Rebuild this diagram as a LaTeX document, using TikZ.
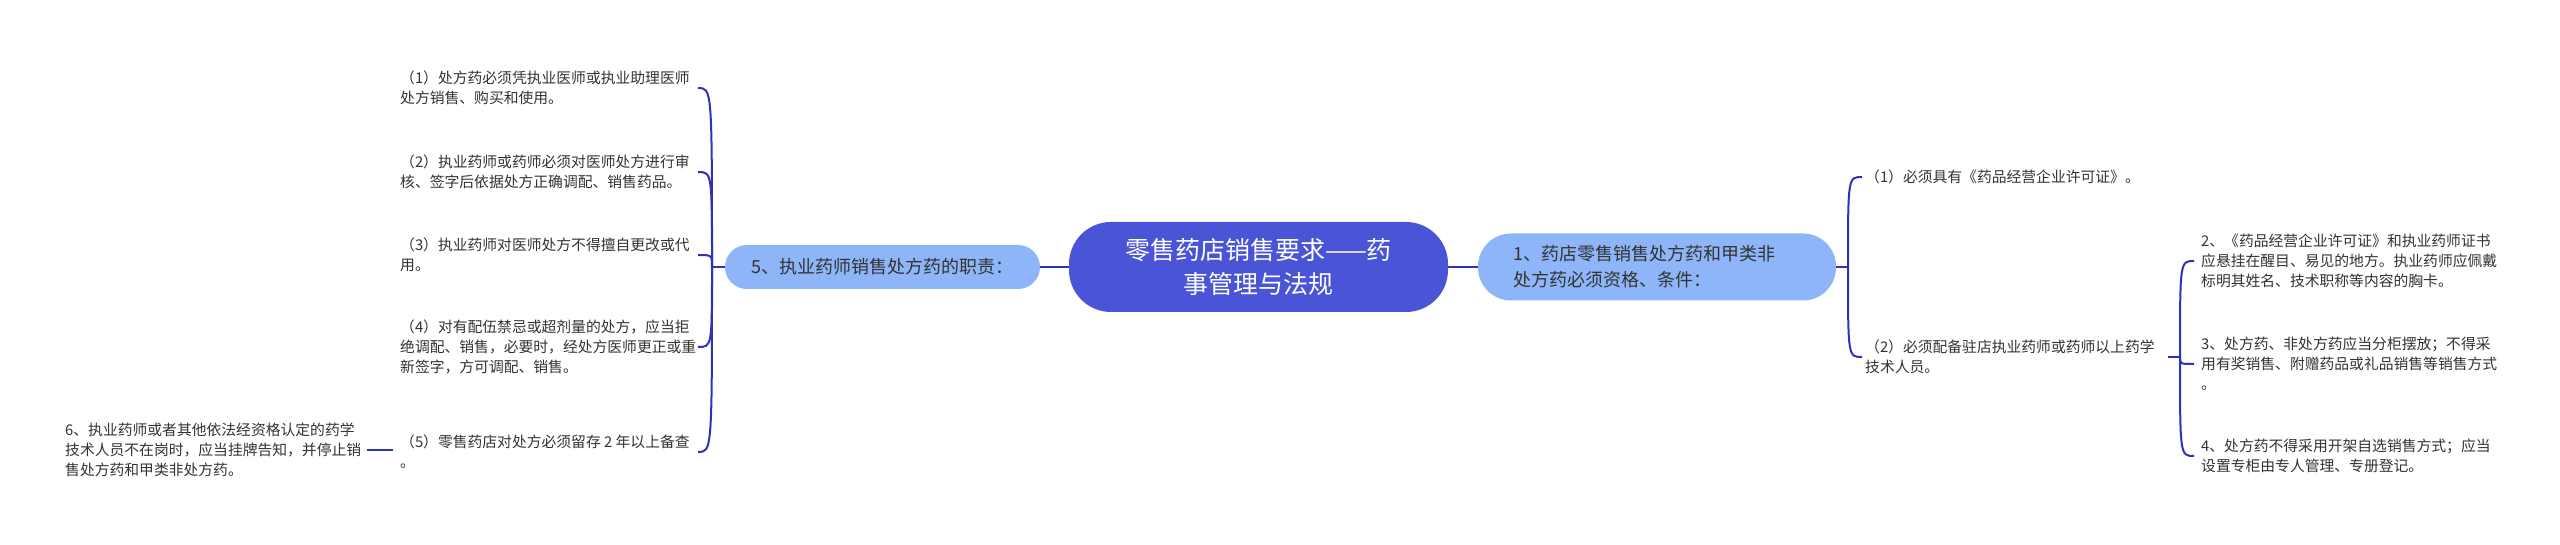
\documentclass[tikz,border=0pt]{standalone}
\usepackage{fontspec}
\setmainfont{Noto Sans CJK SC}
\definecolor{rootc}{RGB}{74,84,214}
\definecolor{brc}{RGB}{141,181,248}
\definecolor{linec}{RGB}{45,52,180}
\definecolor{txtc}{RGB}{51,51,51}
\begin{document}
\begin{tikzpicture}[x=1pt,y=-1pt,
  rootbox/.style={fill=rootc, draw=none, text=white, rounded corners=42pt,
    minimum width=379pt, minimum height=90pt, inner sep=0pt, align=center,
    font=\fontsize{25pt}{34pt}\selectfont},
  brbox/.style={fill=brc, draw=none, text=txtc, inner sep=0pt,
    font=\fontsize{18pt}{26pt}\selectfont},
  leaf/.style={anchor=west, inner sep=0pt, align=left, text=txtc,
    font=\fontsize{14.8pt}{20pt}\selectfont},
  conn/.style={draw=linec, line width=2pt}
]
\useasboundingbox (0,0) rectangle (2560,545);
\fill[white] (0,0) rectangle (2560,545);

% root and branches
\node[rootbox] (root) at (1258.5,267) {零售药店销售要求——药\\事管理与法规};
\node[brbox, minimum width=315pt, minimum height=44pt, rounded corners=22pt] (b5) at (882.5,267)
  {5、执业药师销售处方药的职责：};
\node[brbox, minimum height=67pt, rounded corners=33pt, text width=288pt, inner xsep=35pt,
  align=left] (b1) at (1657,267)
  {1、药店零售销售处方药和甲类非\\处方药必须资格、条件：};

\draw[conn] (b5.east) -- (root.west);
\draw[conn] (root.east) -- (b1.west);

% left leaves
\node[leaf] (l1) at (400,88) {（1）处方药必须凭执业医师或执业助理医师\\处方销售、购买和使用。};
\node[leaf] (l2) at (400,172) {（2）执业药师或药师必须对医师处方进行审\\核、签字后依据处方正确调配、销售药品。};
\node[leaf] (l3) at (400,255) {（3）执业药师对医师处方不得擅自更改或代\\用。};
\node[leaf] (l4) at (400,347) {（4）对有配伍禁忌或超剂量的处方，应当拒\\绝调配、销售，必要时，经处方医师更正或重\\新签字，方可调配、销售。};
\node[leaf] (l5) at (400,452) {（5）零售药店对处方必须留存 2 年以上备查\\。};
\node[leaf] (l6) at (65,450) {6、执业药师或者其他依法经资格认定的药学\\技术人员不在岗时，应当挂牌告知，并停止销\\售处方药和甲类非处方药。};

\coordinate (Lj) at (712,267);
\coordinate (LX) at (698,0);
\draw[conn] (b5.west) -- (Lj);
\foreach \n in {l1,l2,l3,l4,l5}
  \draw[conn] (LX |- \n.west) .. controls (Lj |- \n.west) .. (Lj);
\draw[conn] ([xshift=6pt]l6.east) -- ([xshift=-7pt]l5.west |- l6.east);

% right leaves
\node[leaf] (r1) at (1865,177) {（1）必须具有《药品经营企业许可证》。};
\node[leaf] (r2) at (1865,357) {（2）必须配备驻店执业药师或药师以上药学\\技术人员。};

\coordinate (Rj) at (1848,267);
\coordinate (RX) at (1862,0);
\draw[conn] (b1.east) -- (Rj);
\foreach \n in {r1,r2}
  \draw[conn] (RX |- \n.west) .. controls (Rj |- \n.west) .. (Rj);

\node[leaf] (s2) at (2201,261) {2、《药品经营企业许可证》和执业药师证书\\应悬挂在醒目、易见的地方。执业药师应佩戴\\标明其姓名、技术职称等内容的胸卡。};
\node[leaf] (s3) at (2201,364) {3、处方药、非处方药应当分柜摆放；不得采\\用有奖销售、附赠药品或礼品销售等销售方式\\。};
\node[leaf] (s4) at (2201,456) {4、处方药不得采用开架自选销售方式；应当\\设置专柜由专人管理、专册登记。};

\coordinate (Sj) at (2180,357);
\coordinate (SX) at (2194,0);
\draw[conn] ([xshift=13pt]r2.east |- Sj) -- (Sj);
\foreach \n in {s2,s3,s4}
  \draw[conn] (SX |- \n.west) .. controls (Sj |- \n.west) .. (Sj);
\end{tikzpicture}
\end{document}
